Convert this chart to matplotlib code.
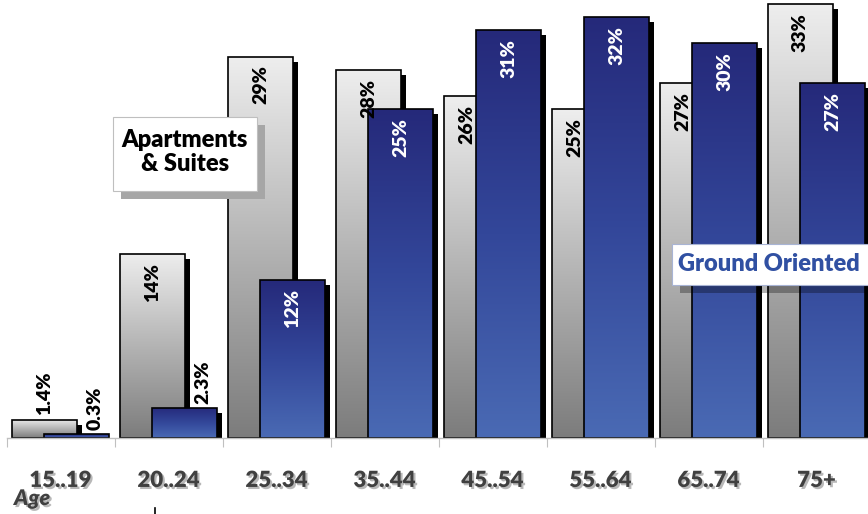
import matplotlib
matplotlib.use("Agg")
import matplotlib.pyplot as plt
import numpy as np
from matplotlib.patches import Rectangle
from matplotlib.colors import LinearSegmentedColormap
from matplotlib.transforms import ScaledTranslation
from matplotlib.lines import Line2D
import matplotlib.patheffects as pe

# Share of households by age of maintainer, per dwelling type (%)
age_groups = ["15..19", "20..24", "25..34", "35..44", "45..54", "55..64", "65..74", "75+"]
apartments = [1.4, 14, 29, 28, 26, 25, 27, 33]
ground_oriented = [0.3, 2.3, 12, 25, 31, 32, 30, 27]

plt.rcParams["font.family"] = ["Lato", "DejaVu Sans"]

W, H = 868, 514
fig = plt.figure(figsize=(W / 100, H / 100), dpi=100)
fig.patch.set_facecolor("white")


def fx(px):
    return px / W


def fy(py):
    return 1 - py / H


ax = fig.add_axes([fx(6.6), fy(438), 864 / W, 438 / H])
ax.set_facecolor("white")

gray_cmap = LinearSegmentedColormap.from_list("gray_fade", ["#7c7c7c", "#b4b4b4", "#eeeeee"])
blue_cmap = LinearSegmentedColormap.from_list("blue_fade", ["#4a6ab4", "#33479a", "#25297a"])
ramp = np.linspace(0, 1, 256).reshape(-1, 1)

x = np.arange(len(age_groups))
bar_w = 0.6
shift = 0.15
shadow_offset = ScaledTranslation(0.05, -0.05, fig.dpi_scale_trans)


def shaded_bars(xpos, values, cmap, z):
    bars = ax.bar(xpos, values, bar_w, facecolor="none", edgecolor="black",
                  linewidth=1.2, zorder=z + 0.2)
    for b in bars:
        x0, y0 = b.get_xy()
        w, h = b.get_width(), b.get_height()
        shadow = Rectangle((x0, y0), w, h, facecolor="black", edgecolor="none",
                           transform=ax.transData + shadow_offset, zorder=z)
        ax.add_patch(shadow)
        im = ax.imshow(ramp, extent=[x0, x0 + w, y0, y0 + h], origin="lower",
                       cmap=cmap, aspect="auto", interpolation="bicubic", zorder=z + 0.1)
        im.set_clip_path(b)
    return bars


gray_bars = shaded_bars(x - shift, apartments, gray_cmap, 1)
blue_bars = shaded_bars(x + shift, ground_oriented, blue_cmap, 2)

ax.set_xlim(-0.5, 7.5)
ax.set_ylim(0, 33.3)

label_style = dict(rotation=90, ha="center", fontsize=14, fontweight="heavy",
                   textcoords="offset points", zorder=10)

# back-row (apartment) labels: slide left when the front bar would hide them
for b, v, front in zip(gray_bars, apartments, ground_oriented):
    cx = b.get_x() + b.get_width() / 2
    if v < 5:
        ax.annotate(f"{v:g}%", xy=(cx, v), xytext=(0, 3), va="bottom",
                    color="black", **label_style)
    else:
        dx = -6.5 if front > v - 2.5 else 0
        ax.annotate(f"{v:g}%", xy=(cx, v), xytext=(dx, -6.5), va="top",
                    color="black", **label_style)

# front-row (ground oriented) labels
for b, v in zip(blue_bars, ground_oriented):
    cx = b.get_x() + b.get_width() / 2
    if v < 5:
        ax.annotate(f"{v:g}%", xy=(cx, v), xytext=(13, 3), va="bottom",
                    color="black", **label_style)
    else:
        ax.annotate(f"{v:g}%", xy=(cx, v), xytext=(0, -6.5), va="top",
                    color="white", **label_style)

# axis styling
for side in ["left", "right", "top"]:
    ax.spines[side].set_visible(False)
ax.spines["bottom"].set_color("#c0c0c0")
ax.spines["bottom"].set_linewidth(1.0)
ax.set_yticks([])
ax.set_xticks(x, age_groups, fontsize=16, fontweight="heavy", color="#404040")
ax.set_xticks(np.arange(-0.5, len(age_groups), 1), minor=True)
ax.tick_params(axis="x", which="major", length=0, pad=23)
ax.tick_params(axis="x", which="minor", length=6.5, color="#c0c0c0", width=0.8)
text_shadow = [pe.SimplePatchShadow(offset=(1.5, -1.5), shadow_rgbFace="#9a9a9a", alpha=0.7),
               pe.Normal()]
for lbl in ax.get_xticklabels():
    lbl.set_path_effects(text_shadow)

fig.text(fx(14), fy(505), "Age", fontsize=15.5, fontweight="heavy", style="italic",
         color="#404040", path_effects=text_shadow)
fig.add_artist(Line2D([fx(155), fx(155)], [fy(508), fy(514)], color="black", lw=1.2))

# series captions
fig.add_artist(Rectangle((fx(120.7), fy(199)), 144 / W, 74.3 / H, transform=fig.transFigure,
                         facecolor="#a6a6a6", edgecolor="none", zorder=20))
fig.add_artist(Rectangle((fx(112.7), fy(191)), 144 / W, 74.3 / H, transform=fig.transFigure,
                         facecolor="white", edgecolor="#bfbfbf", lw=0.8, zorder=21))
fig.text(fx(184.7), fy(152), "Apartments\n& Suites", ha="center", va="center",
         fontsize=17, fontweight="heavy", color="black", linespacing=1.15, zorder=22)

fig.add_artist(Rectangle((fx(679.7), fy(293)), 220 / W, 41 / H, transform=fig.transFigure,
                         facecolor="black", edgecolor="none", alpha=0.3, zorder=20))
fig.add_artist(Rectangle((fx(671.7), fy(285)), 220 / W, 41 / H, transform=fig.transFigure,
                         facecolor="white", edgecolor="#a8b4d4", lw=0.8, zorder=21))
fig.text(fx(678), fy(271), "Ground Oriented", ha="left", va="baseline",
         fontsize=17, fontweight="heavy", color="#3050a2", zorder=22)

fig.savefig("out.png", dpi=100, facecolor="white")
